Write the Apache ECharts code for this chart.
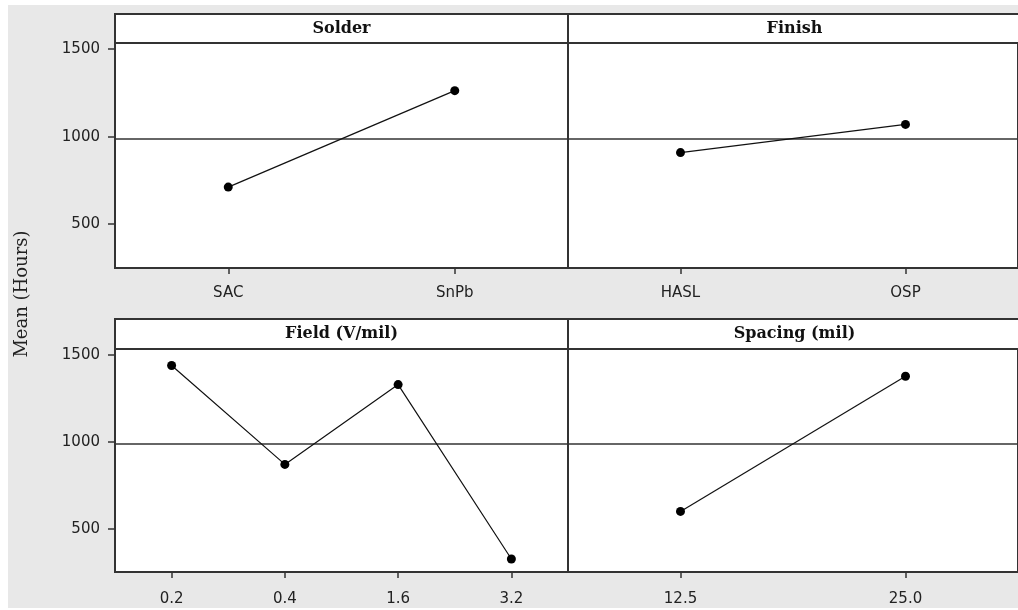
<!DOCTYPE html>
<html>
<head>
<meta charset="utf-8">
<script src="https://cdn.jsdelivr.net/npm/echarts@6/dist/echarts.min.js"></script>
<style>
  html, body { margin: 0; padding: 0; background: #fff; }
  #main { width: 1018px; height: 610px; }
</style>
</head>
<body>
<div id="main"></div>
<script>
// Main effects plot: mean life (hours) for each level of four factors
const solderLevels = ['SAC', 'SnPb'];
const solderMeans = [712, 1263];
const finishLevels = ['HASL', 'OSP'];
const finishMeans = [909, 1070];
const fieldLevels = ['0.2', '0.4', '1.6', '3.2'];
const fieldMeans = [1440, 870, 1330, 325];
const spacingLevels = ['12.5', '25.0'];
const spacingMeans = [599, 1378];
const grandMean = 990;
const yTicks = [500, 1000, 1500];
const panelTitles = ['Solder', 'Finish', 'Field (V/mil)', 'Spacing (mil)'];
const yTitle = 'Mean (Hours)';

const panels = [
  { levels: solderLevels, means: solderMeans, left: 115, top: 43, height: 225, head: 14 },
  { levels: finishLevels, means: finishMeans, left: 568, top: 43, height: 225, head: 14 },
  { levels: fieldLevels, means: fieldMeans, left: 115, top: 349, height: 223, head: 319 },
  { levels: spacingLevels, means: spacingMeans, left: 568, top: 349, height: 223, head: 319 }
];
const panelWidth = 453;
const edge = '#333';
const tickFont = { fontFamily: 'DejaVu Sans', fontSize: 15, color: '#222' };

const chart = echarts.init(document.getElementById('main'), null, { renderer: 'canvas' });

const grid = panels.map(p => ({
  left: p.left, top: p.top, width: panelWidth, height: p.height,
  show: true, backgroundColor: '#fff', borderColor: edge, borderWidth: 2,
  containLabel: false
}));

const xAxis = panels.map((p, i) => ({
  type: 'category', gridIndex: i, data: p.levels, boundaryGap: true,
  axisLine: { show: false },
  axisTick: { show: true, alignWithLabel: true, length: 6, lineStyle: { color: edge, width: 1.5 } },
  axisLabel: Object.assign({ margin: i < 2 ? 18 : 20 }, tickFont),
  splitLine: { show: false }
}));

const yAxis = panels.map((p, i) => ({
  type: 'value', gridIndex: i, min: 250, max: 1535,
  axisLine: { show: false },
  axisTick: { show: i % 2 === 0, length: 7, customValues: yTicks, lineStyle: { color: edge, width: 1.5 } },
  axisLabel: Object.assign({
    show: i % 2 === 0, margin: 15, customValues: yTicks,
    formatter: v => String(v)
  }, tickFont),
  splitLine: { show: false }
}));

const series = panels.map((p, i) => ({
  type: 'line', xAxisIndex: i, yAxisIndex: i, data: p.means,
  symbol: 'circle', symbolSize: 9,
  itemStyle: { color: '#000' },
  lineStyle: { color: '#111', width: 1.2 },
  z: 5,
  markLine: {
    silent: true, symbol: 'none', label: { show: false },
    lineStyle: { color: edge, width: 1.5, type: 'solid' },
    data: [{ yAxis: grandMean }]
  }
}));

const graphics = [
  { type: 'rect', z: -100, shape: { x: 8, y: 5, width: 1010, height: 603 }, style: { fill: '#e8e8e8' } },
  {
    type: 'text', x: 22, y: 294, rotation: Math.PI / 2,
    style: { text: yTitle, fontFamily: 'DejaVu Serif', fontSize: 18, fill: '#222', textAlign: 'center', textVerticalAlign: 'middle' }
  }
];
panels.forEach((p, i) => {
  graphics.push({
    type: 'rect', z: 10,
    shape: { x: p.left, y: p.head, width: panelWidth, height: p.top - p.head },
    style: { fill: '#fff', stroke: edge, lineWidth: 2 }
  });
  graphics.push({
    type: 'text', z: 11, x: p.left + panelWidth / 2, y: (p.head + p.top) / 2,
    style: { text: panelTitles[i], fontFamily: 'DejaVu Serif', fontWeight: 'bold', fontSize: 16, fill: '#111', textAlign: 'center', textVerticalAlign: 'middle' }
  });
});

chart.setOption({
  animation: false,
  backgroundColor: '#fff',
  grid, xAxis, yAxis, series,
  graphic: { elements: graphics }
});
</script>
</body>
</html>
